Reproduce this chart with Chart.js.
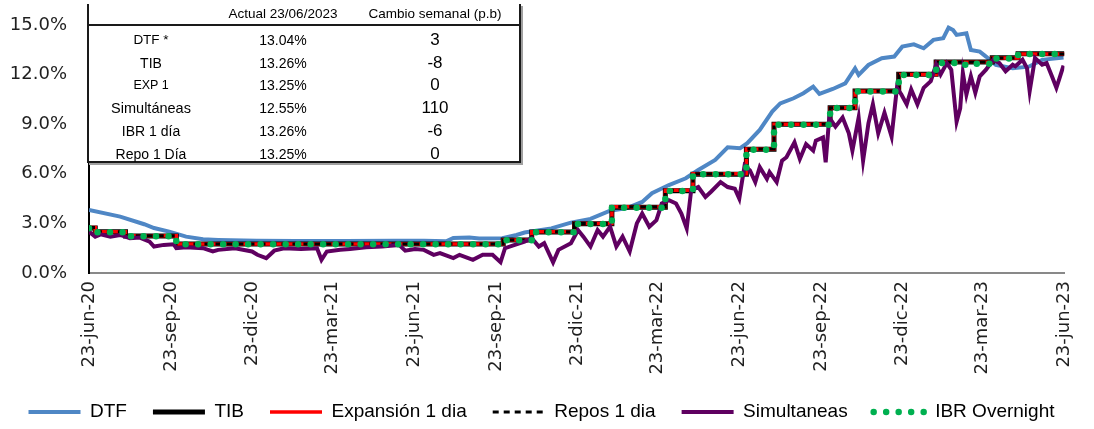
<!DOCTYPE html>
<html lang="es">
<head>
<meta charset="utf-8">
<title>Tasas de interés de corto plazo</title>
<script src="https://cdn.jsdelivr.net/npm/chart.js@4.4.1/dist/chart.umd.min.js"></script>
<style>
  body { margin: 0; background: #fff; }
  #marco { position: relative; width: 1094px; height: 429px; }
  #grafico { position: absolute; left: 0; top: 0; }
  #tabla {
    position: absolute; left: 87px; top: 4px; width: 430px; height: 157px;
    border: 2px solid #1a1a1a; border-top: none;
    box-shadow: 2px 2px 0 #a0a0a0; background: #fff;
    font-family: "Liberation Sans", Arial, sans-serif; color: #000;
  }
  #tabla .linea { position: absolute; left: 0; top: 20px; width: 430px; height: 2px; background: #1a1a1a; }
  #tabla .celda { position: absolute; width: 160px; height: 20px; line-height: 20px; text-align: center; white-space: nowrap; }
</style>
</head>
<body>
<div id="marco">
  <canvas id="grafico" width="1094" height="429"></canvas>
  <div id="tabla"><div class="linea"></div></div>
</div>
<script>
// Ejes: días desde el 23-jun-2020
const marcasDias = [0, 92, 183, 273, 365, 457, 548, 638, 730, 822, 913, 1003, 1095];
const marcasTexto = ['23-jun-20', '23-sep-20', '23-dic-20', '23-mar-21', '23-jun-21', '23-sep-21',
  '23-dic-21', '23-mar-22', '23-jun-22', '23-sep-22', '23-dic-22', '23-mar-23', '23-jun-23'];

// DTF
const dtfDias = [0, 35, 62, 73, 90, 109, 128, 145, 188, 232, 288, 343, 376, 401, 409, 427, 438, 464, 480, 489,
  519, 541, 563, 585, 604, 621, 632, 651, 670, 684, 703, 717, 731, 739, 753, 767, 776, 791, 802, 813,
  820, 835, 849, 860, 864, 875, 890, 904, 913, 926, 937, 948, 959, 965, 970, 974, 985, 990, 1000, 1007,
  1018, 1037, 1055, 1070, 1094];
const dtfValores = [3.81, 3.41, 2.95, 2.72, 2.50, 2.20, 2.04, 2.00, 1.95, 1.93, 1.93, 1.95, 1.95, 1.92, 2.12, 2.14, 2.08, 2.10, 2.30, 2.45,
  2.70, 3.05, 3.27, 3.77, 3.93, 4.30, 4.83, 5.32, 5.73, 6.23, 6.84, 7.60, 7.55, 7.85, 8.65, 9.76, 10.26, 10.57, 10.87, 11.27,
  10.83, 11.13, 11.47, 12.38, 11.98, 12.58, 12.99, 13.09, 13.69, 13.83, 13.59, 14.10, 14.20, 14.84, 14.70, 14.40, 14.50, 13.49, 13.39, 13.09,
  12.58, 12.38, 12.48, 12.89, 13.04];

// Tasas de política (cambios escalonados)
const tasaDias = [0, 7, 41, 98, 465, 497, 545, 587, 647, 678, 738, 769, 832, 860, 909, 951, 1014, 1043, 1095];
const tibValores = [2.72, 2.49, 2.24, 1.76, 1.99, 2.48, 2.98, 3.97, 4.98, 5.98, 7.49, 8.99, 10.00, 11.01, 12.02, 12.76, 13.02, 13.26, 13.26];
const expansionValores = [2.75, 2.50, 2.25, 1.75, 2.00, 2.50, 3.00, 4.00, 5.00, 6.00, 7.50, 9.00, 10.00, 11.00, 12.00, 12.75, 13.00, 13.25, 13.25];
const reposValores = [2.75, 2.50, 2.25, 1.75, 2.00, 2.50, 3.00, 4.00, 5.00, 6.00, 7.50, 9.00, 10.00, 11.00, 12.00, 12.75, 13.00, 13.25, 13.25];

// IBR overnight
const ibrDias = [0, 7, 41, 98, 465, 497, 545, 587, 647, 678, 738, 769, 832, 860, 909, 951, 972, 992, 1014, 1043, 1095];
const ibrValores = [2.70, 2.46, 2.22, 1.74, 1.98, 2.47, 2.96, 3.95, 4.96, 5.97, 7.46, 8.97, 9.98, 10.98, 11.98, 12.70, 12.60, 12.66, 12.98, 13.24, 13.26];

// Simultáneas
const simDias = [0, 7, 13, 24, 35, 46, 57, 68, 73, 84, 95, 98, 109, 128, 139, 145, 164, 183, 189, 199,
  208, 219, 238, 256, 261, 267, 282, 293, 311, 329, 348, 355, 366, 376, 387, 394, 409, 416, 431, 442,
  453, 462, 467, 478, 489, 497, 505, 511, 521, 527, 541, 549, 555, 563, 571, 577, 585, 592, 599, 607,
  615, 621, 629, 637, 643, 651, 659, 665, 671, 676, 684, 692, 698, 709, 717, 725, 730, 736, 742, 748,
  753, 761, 764, 772, 778, 783, 792, 798, 805, 813, 816, 824, 827, 831, 838, 846, 853, 857, 864, 869,
  875, 880, 886, 893, 901, 907, 912, 918, 923, 930, 937, 945, 951, 956, 963, 968, 974, 978, 981, 985,
  990, 995, 1000, 1007, 1015, 1022, 1029, 1037, 1040, 1048, 1053, 1056, 1062, 1070, 1075, 1081, 1086, 1089, 1094];
const simValores = [2.50, 2.20, 2.34, 2.20, 2.30, 2.10, 2.14, 1.90, 1.60, 1.70, 1.74, 1.50, 1.55, 1.50, 1.30, 1.40, 1.50, 1.30, 1.10, 0.90,
  1.35, 1.50, 1.45, 1.50, 0.80, 1.30, 1.40, 1.45, 1.55, 1.60, 1.70, 1.35, 1.45, 1.40, 1.10, 1.20, 0.90, 1.10, 0.80, 1.10,
  1.10, 0.65, 1.50, 1.70, 1.90, 2.10, 1.60, 1.80, 0.65, 1.40, 1.80, 2.60, 2.20, 1.60, 2.60, 2.20, 2.80, 1.60, 2.20, 1.30,
  3.00, 3.60, 2.80, 3.20, 4.20, 4.40, 4.20, 3.60, 2.70, 5.00, 5.20, 4.60, 4.90, 5.50, 5.20, 5.10, 4.50, 6.50, 6.20, 5.50,
  6.40, 5.70, 6.10, 5.50, 6.80, 7.00, 7.90, 6.90, 7.80, 7.40, 8.00, 8.20, 6.70, 9.40, 8.85, 9.40, 8.45, 7.40, 9.40, 6.80,
  9.05, 10.20, 8.45, 9.70, 8.25, 11.20, 10.80, 10.20, 11.10, 10.20, 11.20, 11.60, 12.60, 12.00, 12.70, 12.30, 9.15, 9.95, 12.10, 10.80,
  11.90, 10.90, 11.90, 12.30, 12.90, 12.70, 12.20, 12.60, 12.50, 12.90, 12.40, 11.00, 13.00, 12.60, 12.70, 11.90, 11.20, 11.70, 12.55];

// Tabla resumen
const tablaEncabezado = ['', 'Actual 23/06/2023', 'Cambio semanal (p.b)'];
const tablaNombres = ['DTF *', 'TIB', 'EXP 1', 'Simultáneas', 'IBR 1 día', 'Repo 1 Día'];
const tablaActual = ['13.04%', '13.26%', '13.25%', '12.55%', '13.26%', '13.25%'];
const tablaCambio = ['3', '-8', '0', '110', '-6', '0'];

function puntos(dias, valores) {
    return dias.map(function(d, i) { return { x: d, y: valores[i] }; });
}

// Construir la tabla
function crearTabla() {
    const tabla = document.getElementById('tabla');
    const centros = [62, 194, 346];
    const filasY = [36, 58.5, 81, 104, 127, 149.5];
    const tamNombre = [13.5, 14, 12.5, 14.5, 14, 14];

    function celda(texto, centro, y, tam) {
        const el = document.createElement('div');
        el.className = 'celda';
        el.textContent = texto;
        el.style.left = (centro - 80) + 'px';
        el.style.top = (y - 10) + 'px';
        el.style.fontSize = tam + 'px';
        tabla.appendChild(el);
    }

    celda(tablaEncabezado[1], centros[1], 10, 13.5);
    celda(tablaEncabezado[2], centros[2], 10, 13.5);
    tablaNombres.forEach(function(nombre, i) {
        celda(nombre, centros[0], filasY[i], tamNombre[i]);
        celda(tablaActual[i], centros[1], filasY[i], 14);
        celda(tablaCambio[i], centros[2], filasY[i], 17);
    });
}

const fuenteEjes = { family: 'DejaVu Sans', size: 18 };

new Chart(document.getElementById('grafico'), {
    type: 'line',
    data: {
        datasets: [
            { label: 'DTF', data: puntos(dtfDias, dtfValores), borderColor: '#4F87C5', borderWidth: 4, order: 5 },
            { label: 'TIB', data: puntos(tasaDias, tibValores), borderColor: '#000000', borderWidth: 5, stepped: 'before', order: 4 },
            { label: 'Expansión 1 dia', data: puntos(tasaDias, expansionValores), borderColor: '#FF0000', borderWidth: 3.5, stepped: 'before', order: 3 },
            { label: 'Repos 1 dia', data: puntos(tasaDias, reposValores), borderColor: '#000000', borderWidth: 3, borderDash: [6, 5], stepped: 'before', order: 2, legendWidth: 3 },
            { label: 'Simultaneas', data: puntos(simDias, simValores), borderColor: '#5F0060', borderWidth: 4, order: 1 },
            { label: 'IBR Overnight', data: puntos(ibrDias, ibrValores), borderColor: '#00B050', borderWidth: 6.5, borderDash: [0, 12.5], borderCapStyle: 'round', stepped: 'before', order: 0 }
        ]
    },
    options: {
        responsive: false,
        animation: false,
        layout: { padding: { top: 25, right: 11, bottom: -2.5, left: 0 } },
        elements: { point: { radius: 0 }, line: { tension: 0 } },
        plugins: {
            tooltip: { enabled: false },
            legend: {
                position: 'bottom',
                labels: {
                    usePointStyle: true,
                    pointStyleWidth: 52,
                    padding: 26,
                    color: '#000',
                    font: { family: 'Liberation Sans', size: 19 },
                    generateLabels: function(chart) {
                        return chart.data.datasets.map(function(ds, i) {
                            return {
                                text: ds.label,
                                fillStyle: ds.borderColor,
                                strokeStyle: ds.borderColor,
                                lineWidth: ds.legendWidth || ds.borderWidth,
                                lineDash: ds.borderDash || [],
                                lineCap: ds.borderCapStyle || 'butt',
                                pointStyle: 'line',
                                fontColor: '#000',
                                hidden: false,
                                datasetIndex: i
                            };
                        });
                    }
                }
            }
        },
        scales: {
            x: {
                type: 'linear',
                min: 0,
                max: 1095,
                grid: { display: false, drawTicks: false },
                border: { display: true, color: '#898989', width: 2 },
                afterBuildTicks: function(scale) {
                    scale.ticks = marcasDias.map(function(d) { return { value: d }; });
                },
                afterFit: function(scale) { scale.height = 103.5; },
                ticks: {
                    autoSkip: false,
                    minRotation: 90,
                    maxRotation: 90,
                    padding: 8,
                    color: '#1f1f1f',
                    font: fuenteEjes,
                    callback: function(valor, indice) { return marcasTexto[indice]; }
                }
            },
            y: {
                min: 0,
                max: 15,
                grid: { display: false, drawTicks: false },
                border: { display: true, color: '#000000', width: 2 },
                afterFit: function(scale) {
                    scale.width = 89;
                    scale.paddingTop = 11;
                    scale.paddingBottom = 11;
                },
                ticks: {
                    stepSize: 3,
                    padding: 22,
                    color: '#1f1f1f',
                    font: fuenteEjes,
                    callback: function(valor) { return valor.toFixed(1) + '%'; }
                }
            }
        }
    }
});

crearTabla();
</script>
</body>
</html>
